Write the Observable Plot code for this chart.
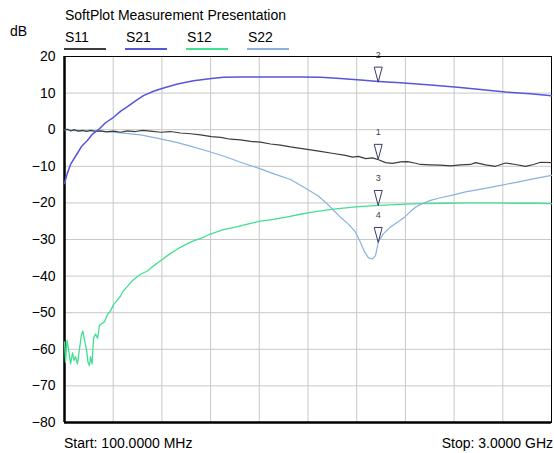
<!DOCTYPE html>
<html><head><meta charset="utf-8">
<script src="https://cdn.jsdelivr.net/npm/d3@7"></script>
<script src="https://cdn.jsdelivr.net/npm/@observablehq/plot@0.6"></script>
<style>
body{margin:0;background:#fff;font-family:Arial,"Liberation Sans",sans-serif;}
#wrap{position:relative;width:554px;height:453px;overflow:hidden;}
#chart{position:absolute;left:0;top:0;}
.t{position:absolute;font-size:14px;line-height:14px;color:#000;white-space:nowrap;}
.lg{position:absolute;height:2px;width:42px;}
</style></head><body>
<div id="wrap">
  <div id="chart"></div>
  <div class="t" style="left:65px;top:8px;">SoftPlot Measurement Presentation</div>
  <div class="t" style="left:10px;top:24px;">dB</div>
  <div id="legend"></div>
  <div class="t" style="left:64px;top:436px;">Start: 100.0000 MHz</div>
  <div class="t" style="right:1px;top:436px;">Stop: 3.0000 GHz</div>
</div>
<script>
// ---- data (frequency in MHz, level in dB) ----
const seriesNames = ["S11", "S21", "S12", "S22"];
const seriesColors = ["#3c3c3c", "#5555dd", "#40e090", "#8ab2de"];

const s11Freq = [100,118,136,160,183,207,231,255,285,314,350,392,433,475,523,564,612,672,731,791,850,910,975,1029,1089,1148,1208,1267,1327,1386,1446,1505,1565,1624,1702,1773,1815,1851,1893,1934,1970,2012,2053,2101,2143,2184,2220,2280,2339,2399,2458,2518,2548,2607,2667,2726,2786,2845,2893,2935,3000];
const s11Db   = [0.0,0.1,-0.3,0.0,-0.4,-0.2,-0.5,-0.2,-0.5,-0.3,-0.6,-0.4,-0.7,-0.3,-0.5,-0.2,-0.4,-0.7,-0.5,-0.9,-1.1,-1.4,-1.9,-2.1,-2.6,-2.8,-3.2,-3.4,-3.9,-4.2,-4.7,-5.1,-5.5,-5.9,-6.5,-7.0,-7.5,-7.3,-7.9,-7.7,-8.2,-9.0,-9.2,-8.8,-8.7,-9.1,-9.5,-9.6,-9.7,-9.9,-9.6,-9.5,-9.0,-9.6,-10.0,-9.1,-9.5,-10.0,-9.5,-8.9,-9.0];

const s21Freq = [100,116,136,176,201,235,267,302,344,392,433,475,523,570,630,690,773,868,975,1047,1148,1327,1505,1624,1743,1863,1970,2101,2280,2441,2577,2726,2875,3000];
const s21Db   = [-14.7,-12.0,-9.5,-6.5,-4.6,-3.0,-1.2,0.0,1.9,3.4,5.0,6.3,7.9,9.3,10.5,11.4,12.5,13.4,14.0,14.3,14.4,14.4,14.4,14.3,14.0,13.6,13.2,12.8,12.2,11.6,11.0,10.3,9.8,9.3];

const s12Freq = [100,106,115,124,136,148,157,166,177,189,201,210,219,231,240,249,255,264,273,285,297,308,320,338,356,374,392,416,433,451,475,499,523,553,594,630,672,719,773,820,868,916,969,1041,1130,1208,1267,1344,1428,1505,1565,1702,1833,1970,2101,2220,2369,2500,2637,2786,2905,3000];
const s12Db   = [-58.0,-63.5,-57.5,-60.0,-64.0,-61.0,-63.0,-62.0,-64.0,-60.0,-56.0,-55.0,-57.5,-60.0,-63.5,-64.5,-62.0,-64.0,-57.0,-55.8,-57.0,-53.5,-53.0,-52.5,-50.5,-49.5,-47.8,-46.5,-45.5,-44.0,-42.8,-41.5,-40.5,-39.5,-38.6,-37.2,-35.8,-34.2,-32.6,-31.4,-30.4,-29.6,-28.5,-27.4,-26.5,-25.6,-25.0,-24.5,-23.8,-23.1,-22.6,-21.7,-21.1,-20.7,-20.4,-20.2,-20.1,-20.0,-20.0,-20.1,-20.1,-20.2];

const s22Freq = [100,136,195,255,314,392,463,553,672,761,850,969,1059,1148,1267,1356,1446,1505,1565,1613,1654,1702,1743,1791,1833,1863,1887,1910,1934,1952,1970,2000,2041,2083,2125,2161,2190,2220,2280,2339,2399,2488,2597,2697,2798,2905,3000];
const s22Db   = [0.0,-0.2,-0.3,-0.2,-0.4,-0.7,-1.0,-1.4,-2.5,-3.4,-4.5,-6.1,-7.4,-8.9,-10.7,-12.2,-13.6,-15.2,-16.8,-18.2,-19.8,-22.0,-23.9,-25.8,-28.0,-30.8,-33.4,-35.0,-35.3,-34.4,-30.5,-28.4,-26.6,-25.3,-23.9,-22.3,-21.2,-20.4,-19.3,-18.6,-18.0,-17.0,-16.1,-15.2,-14.3,-13.3,-12.5];

const markerIds  = ["1", "2", "3", "4"];
const markerFreq = [1968, 1968, 1968, 1968];
const markerDb   = [-8.1, 13.0, -20.7, -30.8];

const yTicks = [20, 10, 0, -10, -20, -30, -40, -50, -60, -70, -80];
const xGrid  = [390, 680, 970, 1260, 1550, 1840, 2130, 2420, 2710];

// ---- build tables ----
const toRows = (fs, ds) => fs.map((f, i) => ({f, db: ds[i]}));
const s11 = toRows(s11Freq, s11Db);
const s21 = toRows(s21Freq, s21Db);
const s12 = toRows(s12Freq, s12Db);
const s22 = toRows(s22Freq, s22Db);
const markers = markerIds.map((id, i) => ({id, f: markerFreq[i], db: markerDb[i]}));

const downTri = {draw(ctx) { ctx.moveTo(-4, -15); ctx.lineTo(4, -15); ctx.lineTo(0, 0); ctx.closePath(); }};

const chart = Plot.plot({
  width: 554, height: 453,
  marginLeft: 64, marginRight: 3, marginTop: 56, marginBottom: 31,
  style: {fontFamily: "Arial, 'Liberation Sans', sans-serif", fontSize: "14px", background: "white", color: "black"},
  x: {domain: [100, 3000], axis: null},
  y: {domain: [-80, 20], axis: null},
  marks: [
    Plot.gridX(xGrid, {stroke: "#c8c8c8", strokeOpacity: 1}),
    Plot.gridY(yTicks, {stroke: "#c8c8c8", strokeOpacity: 1}),
    Plot.axisY(yTicks, {tickSize: 0, tickPadding: 9, label: null, fontSize: 14}),
    Plot.frame({stroke: "#000", strokeWidth: 1}),
    Plot.ruleX([100], {stroke: "#000", strokeWidth: 2.5}),
    Plot.ruleY([-80], {stroke: "#000", strokeWidth: 2.5}),
    Plot.line(s12, {x: "f", y: "db", stroke: seriesColors[2], strokeWidth: 1.3}),
    Plot.line(s22, {x: "f", y: "db", stroke: seriesColors[3], strokeWidth: 1.2}),
    Plot.line(s11, {x: "f", y: "db", stroke: seriesColors[0], strokeWidth: 1.2}),
    Plot.line(s21, {x: "f", y: "db", stroke: seriesColors[1], strokeWidth: 1.5}),
    Plot.dot(markers, {x: "f", y: "db", symbol: downTri, r: 5, stroke: "#3a3a6a", fill: "none", strokeWidth: 1}),
    Plot.text(markers, {x: "f", y: "db", text: "id", dy: -27, fontSize: 9, fill: "#404050"})
  ]
});
document.getElementById("chart").appendChild(chart);

// ---- legend ----
const lg = document.getElementById("legend");
seriesNames.forEach((name, i) => {
  const x = 64 + i * 61;
  const t = document.createElement("div");
  t.className = "t"; t.style.left = (x + 1) + "px"; t.style.top = "30px"; t.textContent = name;
  lg.appendChild(t);
  const l = document.createElement("div");
  l.className = "lg"; l.style.left = x + "px"; l.style.top = "48px"; l.style.background = seriesColors[i];
  lg.appendChild(l);
});
</script>
</body></html>
